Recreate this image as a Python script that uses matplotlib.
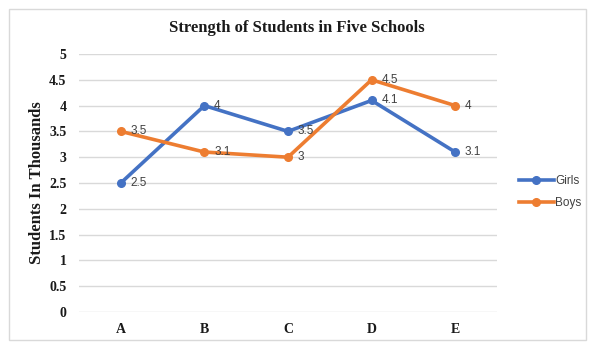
import numpy as np
import matplotlib.pyplot as plt
from matplotlib.patches import Rectangle

schools = ['A', 'B', 'C', 'D', 'E']
girls = [2.5, 4.0, 3.5, 4.1, 3.1]
boys = [3.5, 3.1, 3.0, 4.5, 4.0]
yticks = [0, 0.5, 1, 1.5, 2, 2.5, 3, 3.5, 4, 4.5, 5]

serif = 'Liberation Serif'
sans = 'Liberation Sans'

fig = plt.figure(figsize=(6.09, 3.46), dpi=100)
ax = fig.add_axes([79/609, 1-312/346, (497-79)/609, (312-54)/346])

x = np.arange(len(schools))
ax.plot(x, girls, color='#4472C4', lw=2.6, marker='o', ms=5.5, label='Girls')
ax.plot(x, boys, color='#ED7D31', lw=2.6, marker='o', ms=5.5, label='Boys')

for xi, v in zip(x, girls):
    ax.annotate(f'{v:g}', (xi, v), xytext=(7, 0), textcoords='offset points',
                va='center', ha='left', fontsize=8.5, color='#404040', family=sans)
for xi, v in zip(x, boys):
    ax.annotate(f'{v:g}', (xi, v), xytext=(7, 0), textcoords='offset points',
                va='center', ha='left', fontsize=8.5, color='#404040', family=sans)

ax.set_xlim(-0.5, 4.5)
ax.set_ylim(0, 5)
ax.set_yticks(yticks)
ax.set_yticklabels([f'{t:g}' for t in yticks])
ax.set_xticks(x)
ax.set_xticklabels(schools)
ax.grid(axis='y', color='#D9D9D9', lw=1)
ax.set_axisbelow(True)
for s in ax.spines.values():
    s.set_visible(False)
ax.tick_params(length=0, labelsize=10)
ax.tick_params(axis='x', pad=8)
ax.tick_params(axis='y', pad=9)
for lab in ax.get_xticklabels() + ax.get_yticklabels():
    lab.set_family(serif)
    lab.set_fontweight('bold')
    lab.set_color('#1a1a1a')

fig.text(37/609, 1-183/346, 'Students In Thousands', rotation=90, ha='center', va='center',
         family=serif, fontweight='bold', fontsize=12, color='#1a1a1a')
fig.text(297/609, 1-28/346, 'Strength of Students in Five Schools', ha='center', va='center',
         family=serif, fontweight='bold', fontsize=12, color='#1a1a1a')

leg = fig.legend(loc='center left', bbox_to_anchor=(508/609, 1-192/346), frameon=False,
                 prop={'family': sans, 'size': 8.5}, handlelength=3.0, handletextpad=0.1,
                 labelspacing=0.9)
for t in leg.get_texts():
    t.set_color('#404040')

fig.patches.append(Rectangle((9/609, 1-340/346), 577/609, 331/346, transform=fig.transFigure,
                             fill=False, edgecolor='#D9D9D9', lw=1))

fig.savefig('out.png', dpi=100)
